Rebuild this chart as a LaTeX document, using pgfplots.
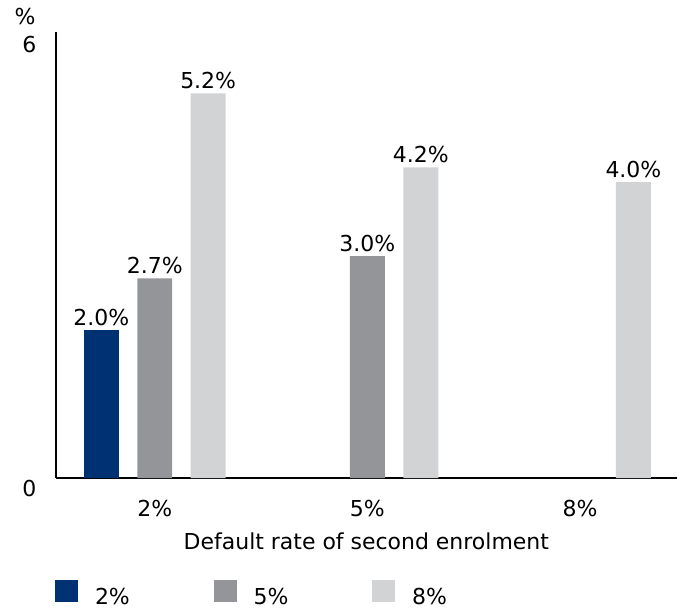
\documentclass[border=0pt]{standalone}
\usepackage{fontspec}
\setmainfont{DejaVu Sans}
\usepackage{pgfplots}
\pgfplotsset{compat=1.18}
\definecolor{c1}{RGB}{0,50,115}
\definecolor{c2}{RGB}{147,149,152}
\definecolor{c3}{RGB}{209,211,212}
\begin{document}
\fontsize{22}{26}\selectfont
\begin{tikzpicture}
\begin{axis}[
  scale only axis, width=622pt, height=447pt,
  xmin=-0.465, xmax=2.455, ymin=0, ymax=6.03,
  axis x line*=bottom, axis y line*=left,
  axis line style={line width=2.5pt},
  ybar, bar width=35pt,
  xtick={0,1,2}, xticklabels={2\%,5\%,8\%},
  ytick={0,6},
  major tick length=0pt,
  /pgf/number format/assume math mode=true,
  tick label style={font=\fontsize{22}{26}\selectfont},
  xticklabel style={anchor=base, yshift=-38pt},
  yticklabel style={anchor=base east, xshift=-12pt, yshift=-18pt},
  xlabel={Default rate of second enrolment},
  xlabel style={at={(axis description cs:0.5,0)}, anchor=base, yshift=-72pt, font=\fontsize{22}{26}\selectfont},
  nodes near coords={\pgfmathprintnumber[fixed,fixed zerofill,precision=1]{\pgfplotspointmeta}\%},
  every node near coord/.append style={anchor=base, yshift=5pt, font=\fontsize{22}{26}\selectfont},
  legend columns=3,
  legend image code/.code={\fill[#1,draw=none] (0pt,-4pt) rectangle (23pt,19pt);},
  legend style={draw=none, fill=none, inner sep=0pt, at={(axis description cs:0,0)}, anchor=west, xshift=-1pt, yshift=-117pt,
    font=\fontsize{22}{26}\selectfont,
    /tikz/every odd column/.append style={column sep=15pt},
    /tikz/every even column/.append style={column sep=82pt}},
]
\addplot[fill=c1, draw=none, bar shift=-53.5pt] coordinates {(0,2.0)};
\addplot[fill=c2, draw=none, bar shift=0pt] coordinates {(0,2.7) (1,3.0)};
\addplot[fill=c3, draw=none, bar shift=53.5pt] coordinates {(0,5.2) (1,4.2) (2,4.0)};
\legend{2\%,5\%,8\%}
\end{axis}
\node at (-31pt,462pt) {\%};
\path[use as bounding box] (-56pt,-132pt) rectangle (622pt,479pt);
\end{tikzpicture}
\end{document}
